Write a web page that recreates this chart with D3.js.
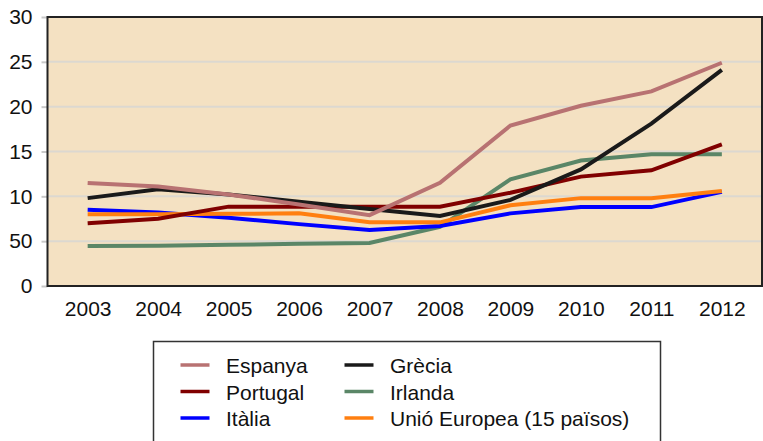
<!DOCTYPE html>
<html>
<head>
<meta charset="utf-8">
<script src="https://cdn.jsdelivr.net/npm/d3@7"></script>
<style>
  body { margin: 0; background: #fff; }
  text { font-family: "Liberation Sans", Arial, sans-serif; }
</style>
</head>
<body>
<div id="chart"></div>
<script>
const width = 763
const height = 441
const margin = { top: 17, right: 1, bottom: 155, left: 47.5 }

// data
const years = ["2003", "2004", "2005", "2006", "2007", "2008", "2009", "2010", "2011", "2012"]
const espanya  = [11.5, 11.1, 10.2, 9.1, 7.9, 11.5, 17.9, 20.1, 21.7, 24.9]
const grecia   = [9.8, 10.8, 10.2, 9.4, 8.6, 7.8, 9.6, 13.0, 18.1, 24.1]
const portugal = [7.0, 7.5, 8.85, 8.85, 8.85, 8.85, 10.4, 12.2, 12.9, 15.8]
const irlanda  = [4.45, 4.5, 4.6, 4.7, 4.8, 6.6, 11.9, 14.0, 14.7, 14.7]
const italia   = [8.5, 8.2, 7.6, 6.9, 6.25, 6.7, 8.1, 8.8, 8.8, 10.5]
const ue15     = [8.0, 8.0, 8.05, 8.1, 7.1, 7.1, 9.0, 9.8, 9.8, 10.6]
const yTicks = [0, 5, 10, 15, 20, 25, 30]
const yTickLabels = ["0", "50", "10", "15", "20", "25", "30"]

const series = [
    { name: "Espanya", values: espanya, color: "#b87272" },
    { name: "Portugal", values: portugal, color: "#800000" },
    { name: "Itàlia", values: italia, color: "#0000ff" },
    { name: "Grècia", values: grecia, color: "#1a1a1a" },
    { name: "Irlanda", values: irlanda, color: "#5a8667" },
    { name: "Unió Europea (15 països)", values: ue15, color: "#ff7f10" }
]
// drawing order (bottom to top)
const drawOrder = ["Irlanda", "Itàlia", "Unió Europea (15 països)", "Portugal", "Grècia", "Espanya"]

const svg = d3.select("#chart")
    .append("svg")
    .attr("width", width)
    .attr("height", height)

const plotW = width - margin.left - margin.right
const plotH = height - margin.top - margin.bottom

const x = d3.scalePoint()
    .domain(years)
    .range([margin.left, margin.left + plotW])
    .padding(0.57)

const y = d3.scaleLinear()
    .domain([0, 30])
    .range([margin.top + plotH, margin.top])

// plot background
svg.append("rect")
    .attr("x", margin.left)
    .attr("y", margin.top)
    .attr("width", plotW)
    .attr("height", plotH)
    .style("fill", "#f4e1c2")

// grid
svg.append("g")
    .selectAll("line")
    .data(yTicks.filter(d => d > 0 && d < 30))
    .join("line")
    .attr("x1", margin.left)
    .attr("x2", margin.left + plotW)
    .attr("y1", d => y(d))
    .attr("y2", d => y(d))
    .style("stroke", "#dcd8d0")
    .style("stroke-width", 2)

// y axis
const yAxis = svg.append("g")
    .attr("transform", "translate(" + margin.left + ",0)")
    .call(d3.axisLeft(y).tickValues(yTicks).tickSize(6).tickPadding(9)
        .tickFormat((d, i) => yTickLabels[i]))
yAxis.select(".domain").remove()
yAxis.selectAll("line").style("stroke", "#c8c8c8").style("stroke-width", 2)
yAxis.selectAll("text")
    .style("font-size", "21px")
    .style("fill", "#111")

// x axis
const xAxis = svg.append("g")
    .attr("transform", "translate(0," + (margin.top + plotH) + ")")
    .call(d3.axisBottom(x).tickSize(0).tickPadding(15))
xAxis.select(".domain").remove()
xAxis.selectAll("text")
    .style("font-size", "21px")
    .style("fill", "#111")

// lines
const line = d3.line()
    .x((d, i) => x(years[i]))
    .y(d => y(d))

svg.append("g")
    .selectAll("path")
    .data(drawOrder.map(n => series.find(s => s.name === n)))
    .join("path")
    .attr("d", d => line(d.values))
    .style("fill", "none")
    .style("stroke", d => d.color)
    .style("stroke-width", 4)

// plot border
svg.append("rect")
    .attr("x", margin.left)
    .attr("y", margin.top)
    .attr("width", plotW)
    .attr("height", plotH)
    .style("fill", "none")
    .style("stroke", "#222")
    .style("stroke-width", 2)

// legend
const legend = svg.append("g")
    .attr("transform", "translate(153.5,341.5)")

legend.append("rect")
    .attr("width", 507)
    .attr("height", 120)
    .style("fill", "#fff")
    .style("stroke", "#333")
    .style("stroke-width", 1.5)

const items = legend.selectAll("g.item")
    .data(series)
    .join("g")
    .attr("class", "item")
    .attr("transform", (d, i) => "translate(" + (Math.floor(i / 3) * 164) + "," + ((i % 3) * 26.5) + ")")

items.append("line")
    .attr("x1", 27)
    .attr("x2", 56)
    .attr("y1", 23.5)
    .attr("y2", 23.5)
    .style("stroke", d => d.color)
    .style("stroke-width", 3.5)

items.append("text")
    .attr("x", 72.5)
    .attr("y", 31.5)
    .style("font-size", "21px")
    .style("fill", "#111")
    .text(d => d.name)
</script>
</body>
</html>
